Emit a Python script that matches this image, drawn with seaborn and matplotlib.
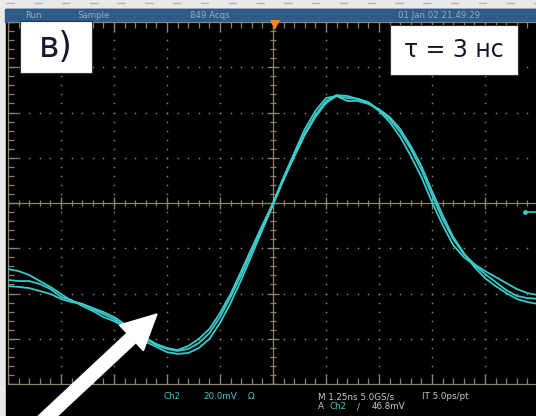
import numpy as np
import pandas as pd
import matplotlib
matplotlib.use('Agg')
import matplotlib.pyplot as plt
import matplotlib.patches as mpatches
from matplotlib.lines import Line2D
from matplotlib.transforms import IdentityTransform
import seaborn as sns

t_ns = [-6.25, -6.0, -5.75, -5.5, -5.25, -5.0, -4.75, -4.5, -4.25, -4.0,
        -3.75, -3.5, -3.25, -3.0, -2.75, -2.5, -2.25, -2.0, -1.75, -1.5,
        -1.25, -1.0, -0.75, -0.5, -0.25, 0.0, 0.25, 0.5, 0.75, 1.0,
        1.25, 1.5, 1.75, 2.0, 2.25, 2.5, 2.75, 3.0, 3.25, 3.5,
        3.75, 4.0, 4.25, 4.5, 4.75, 5.0, 5.25, 5.5, 5.75, 6.0, 6.25]

trace_a = [-29.2, -30.1, -31.8, -34.5, -37.1, -40.2, -43.3, -44.6, -46.9, -49.1,
           -51.3, -54.4, -57.0, -60.1, -62.8, -64.5, -65.4, -64.5, -61.9, -57.5,
           -50.4, -41.5, -31.8, -21.2, -10.6, -0.4, 10.6, 20.3, 30.1, 38.0,
           44.2, 47.3, 46.4, 46.0, 44.6, 41.1, 37.1, 31.4, 23.9, 14.6,
           3.5, -7.1, -15.9, -22.5, -27.0, -30.1, -32.7, -35.4, -38.0, -39.8, -40.7]

trace_b = [-34.0, -34.5, -34.5, -35.8, -38.0, -41.5, -42.9, -45.5, -47.7, -50.4,
           -52.2, -54.8, -58.3, -61.4, -63.6, -65.9, -66.7, -66.3, -64.1, -60.1,
           -53.0, -44.2, -34.0, -23.0, -11.9, -0.9, 10.2, 20.8, 30.9, 38.9,
           45.1, 47.7, 47.3, 46.0, 44.2, 40.7, 35.8, 29.2, 20.8, 11.5,
           0.4, -9.7, -18.6, -23.9, -27.4, -31.4, -34.9, -38.5, -41.1, -42.0, -42.4]

trace_c = [-36.7, -37.1, -37.6, -38.9, -40.2, -42.4, -43.8, -44.6, -46.4, -48.2,
           -50.4, -53.5, -56.1, -59.7, -62.3, -64.1, -65.0, -63.2, -60.1, -55.7,
           -48.6, -40.2, -30.1, -19.9, -9.7, 0.0, 11.5, 22.1, 32.7, 40.7,
           46.4, 47.3, 45.1, 45.1, 43.8, 41.5, 38.0, 32.7, 25.2, 16.4,
           5.3, -5.3, -15.0, -22.1, -28.3, -33.2, -36.7, -39.8, -42.4, -43.8, -44.6]

trace_names = ['1', '2', '3']

ns_per_div = 1.25
mv_per_div = 20.0
ground_mv = -4.0

top_bar = ['Run', 'Sample', '849 Acqs', '01 Jan 02 21:49:29']
panel_label = 'в)'
tau_label = 'τ = 3 нс'

df = pd.DataFrame({
    't': t_ns * 3,
    'mV': trace_a + trace_b + trace_c,
    'trace': [n for n in trace_names for _ in t_ns],
})

sns.set_theme(style='dark')
plt.rcParams['font.family'] = ['DejaVu Sans']

W, H = 536, 416
fig = plt.figure(figsize=(W / 100, H / 100), dpi=100, facecolor='#e9e9e9')


def fx(x):
    return x / W


def fy(y):
    return 1 - y / H


# корпус экрана и синяя строка состояния
fig.add_artist(mpatches.Rectangle((fx(6), 0), 1, fy(9), transform=fig.transFigure,
                                  color='black', zorder=-5))
fig.add_artist(mpatches.Rectangle((fx(5), fy(22)), 1, 13 / H, transform=fig.transFigure,
                                  color='#2d5c8a', zorder=-4))
fig.add_artist(Line2D([fx(6), 1], [fy(3), fy(3)], transform=fig.transFigure,
                      color='#b4b4b4', lw=1.0, ls=(0, (6, 14)), zorder=-4))

ax = fig.add_axes([fx(8), fy(384), 530 / W, 362 / H])
ax.set_facecolor('black')

grat = '#8d8569'
xmin, xmax = -5 * ns_per_div, 5 * ns_per_div
ymin, ymax = -4 * mv_per_div, 4 * mv_per_div
major_x = np.arange(-5, 6) * ns_per_div
major_y = np.arange(-4, 5) * mv_per_div
minor_x = np.arange(-25, 26) * ns_per_div / 5
minor_y = np.arange(-20, 21) * mv_per_div / 5

# точечная сетка
for xv in major_x[1:-1]:
    if xv != 0:
        ax.plot(np.full_like(minor_y, xv), minor_y, ls='none', marker='o',
                ms=1.2, mew=0, color=grat)
for yv in major_y[1:-1]:
    if yv != 0:
        ax.plot(minor_x, np.full_like(minor_x, yv), ls='none', marker='o',
                ms=1.2, mew=0, color=grat)

# центральный крест с рисками
ax.axhline(0, color=grat, lw=0.9)
ax.axvline(0, color=grat, lw=0.9)
ax.plot(minor_x, np.zeros_like(minor_x), ls='none', marker='|', ms=5, mew=0.9, color=grat)
ax.plot(np.zeros_like(minor_y), minor_y, ls='none', marker='_', ms=5, mew=0.9, color=grat)
ax.plot(major_x, np.zeros_like(major_x), ls='none', marker='|', ms=9, mew=0.9, color=grat)
ax.plot(np.zeros_like(major_y), major_y, ls='none', marker='_', ms=9, mew=0.9, color=grat)

# риски по краям
for yv in (ymin, ymax):
    ax.plot(minor_x, np.full_like(minor_x, yv), ls='none', marker='|', ms=8, mew=0.9, color=grat)
    ax.plot(major_x, np.full_like(major_x, yv), ls='none', marker='|', ms=14, mew=0.9, color=grat)
ax.plot(np.full_like(minor_y, xmin), minor_y, ls='none', marker='_', ms=8, mew=0.9, color=grat)
ax.plot(np.full_like(major_y, xmin), major_y, ls='none', marker='_', ms=14, mew=0.9, color=grat)

cyan = '#3ccaca'
sns.lineplot(data=df, x='t', y='mV', units='trace', estimator=None,
             color=cyan, lw=1.3, ax=ax, legend=False, zorder=5)

# маркер триггера и уровень земли канала
ax.plot([0.05], [78.8], marker='v', ms=7, color='#ff8424', mew=0, clip_on=False, zorder=6)
ax.plot([5.95, xmax], [ground_mv, ground_mv], color=cyan, lw=1.2, zorder=6)
ax.plot([5.95], [ground_mv], marker='o', ms=3.5, color=cyan, mew=0, zorder=6)

ax.set_xlim(xmin, xmax)
ax.set_ylim(ymin, ymax)
ax.set_xticks([])
ax.set_yticks([])
ax.set_xlabel('')
ax.set_ylabel('')
for sp in ax.spines.values():
    sp.set_color(grat)
    sp.set_linewidth(0.9)

# строка состояния
bar_txt = '#93aacb'
for label, x in zip(top_bar, [25, 77, 190, 398]):
    fig.text(fx(x), fy(15.5), label, fontsize=6.2, color=bar_txt, va='center')

# нижняя строка настроек
white_txt = '#c8c8c8'
fs = 6.3
fig.text(fx(163), fy(396.5), 'Ch2', fontsize=fs, color=cyan, va='center')
fig.text(fx(203), fy(396.5), '20.0mV', fontsize=fs, color=cyan, va='center')
fig.text(fx(248), fy(396.5), 'Ω', fontsize=fs, color=cyan, va='center')
fig.text(fx(318), fy(396.5), 'M 1.25ns 5.0GS/s', fontsize=fs, color=white_txt, va='center')
fig.text(fx(422), fy(396.5), 'IT 5.0ps/pt', fontsize=fs, color=white_txt, va='center')
fig.text(fx(318), fy(406.5), 'A', fontsize=fs, color=white_txt, va='center')
fig.text(fx(329), fy(406.5), 'Ch2', fontsize=fs, color=cyan, va='center')
fig.text(fx(357), fy(406.5), '/', fontsize=fs, color=white_txt, va='center')
fig.text(fx(372), fy(406.5), '46.8mV', fontsize=fs, color=white_txt, va='center')

# подписи в рамках
fig.add_artist(mpatches.Rectangle((fx(20), fy(73)), 72 / W, 52 / H, transform=fig.transFigure,
                                  facecolor='white', edgecolor='#333333', lw=0.8, zorder=10))
fig.text(fx(56), fy(47), panel_label, fontsize=25, ha='center', va='center',
         color='#15152e', zorder=11)
fig.add_artist(mpatches.Rectangle((fx(390), fy(75)), 128 / W, 50 / H, transform=fig.transFigure,
                                  facecolor='white', edgecolor='#333333', lw=0.8, zorder=10))
fig.text(fx(454), fy(50), tau_label, fontsize=17, ha='center', va='center',
         color='#15152e', zorder=11)

# белая стрелка-указатель
fig.add_artist(mpatches.FancyArrow(35, -12, 122, 114, width=13, head_width=35,
                                   head_length=35, length_includes_head=True,
                                   color='white', transform=IdentityTransform(), zorder=12))

fig.savefig('out.png', dpi=100, facecolor=fig.get_facecolor())
